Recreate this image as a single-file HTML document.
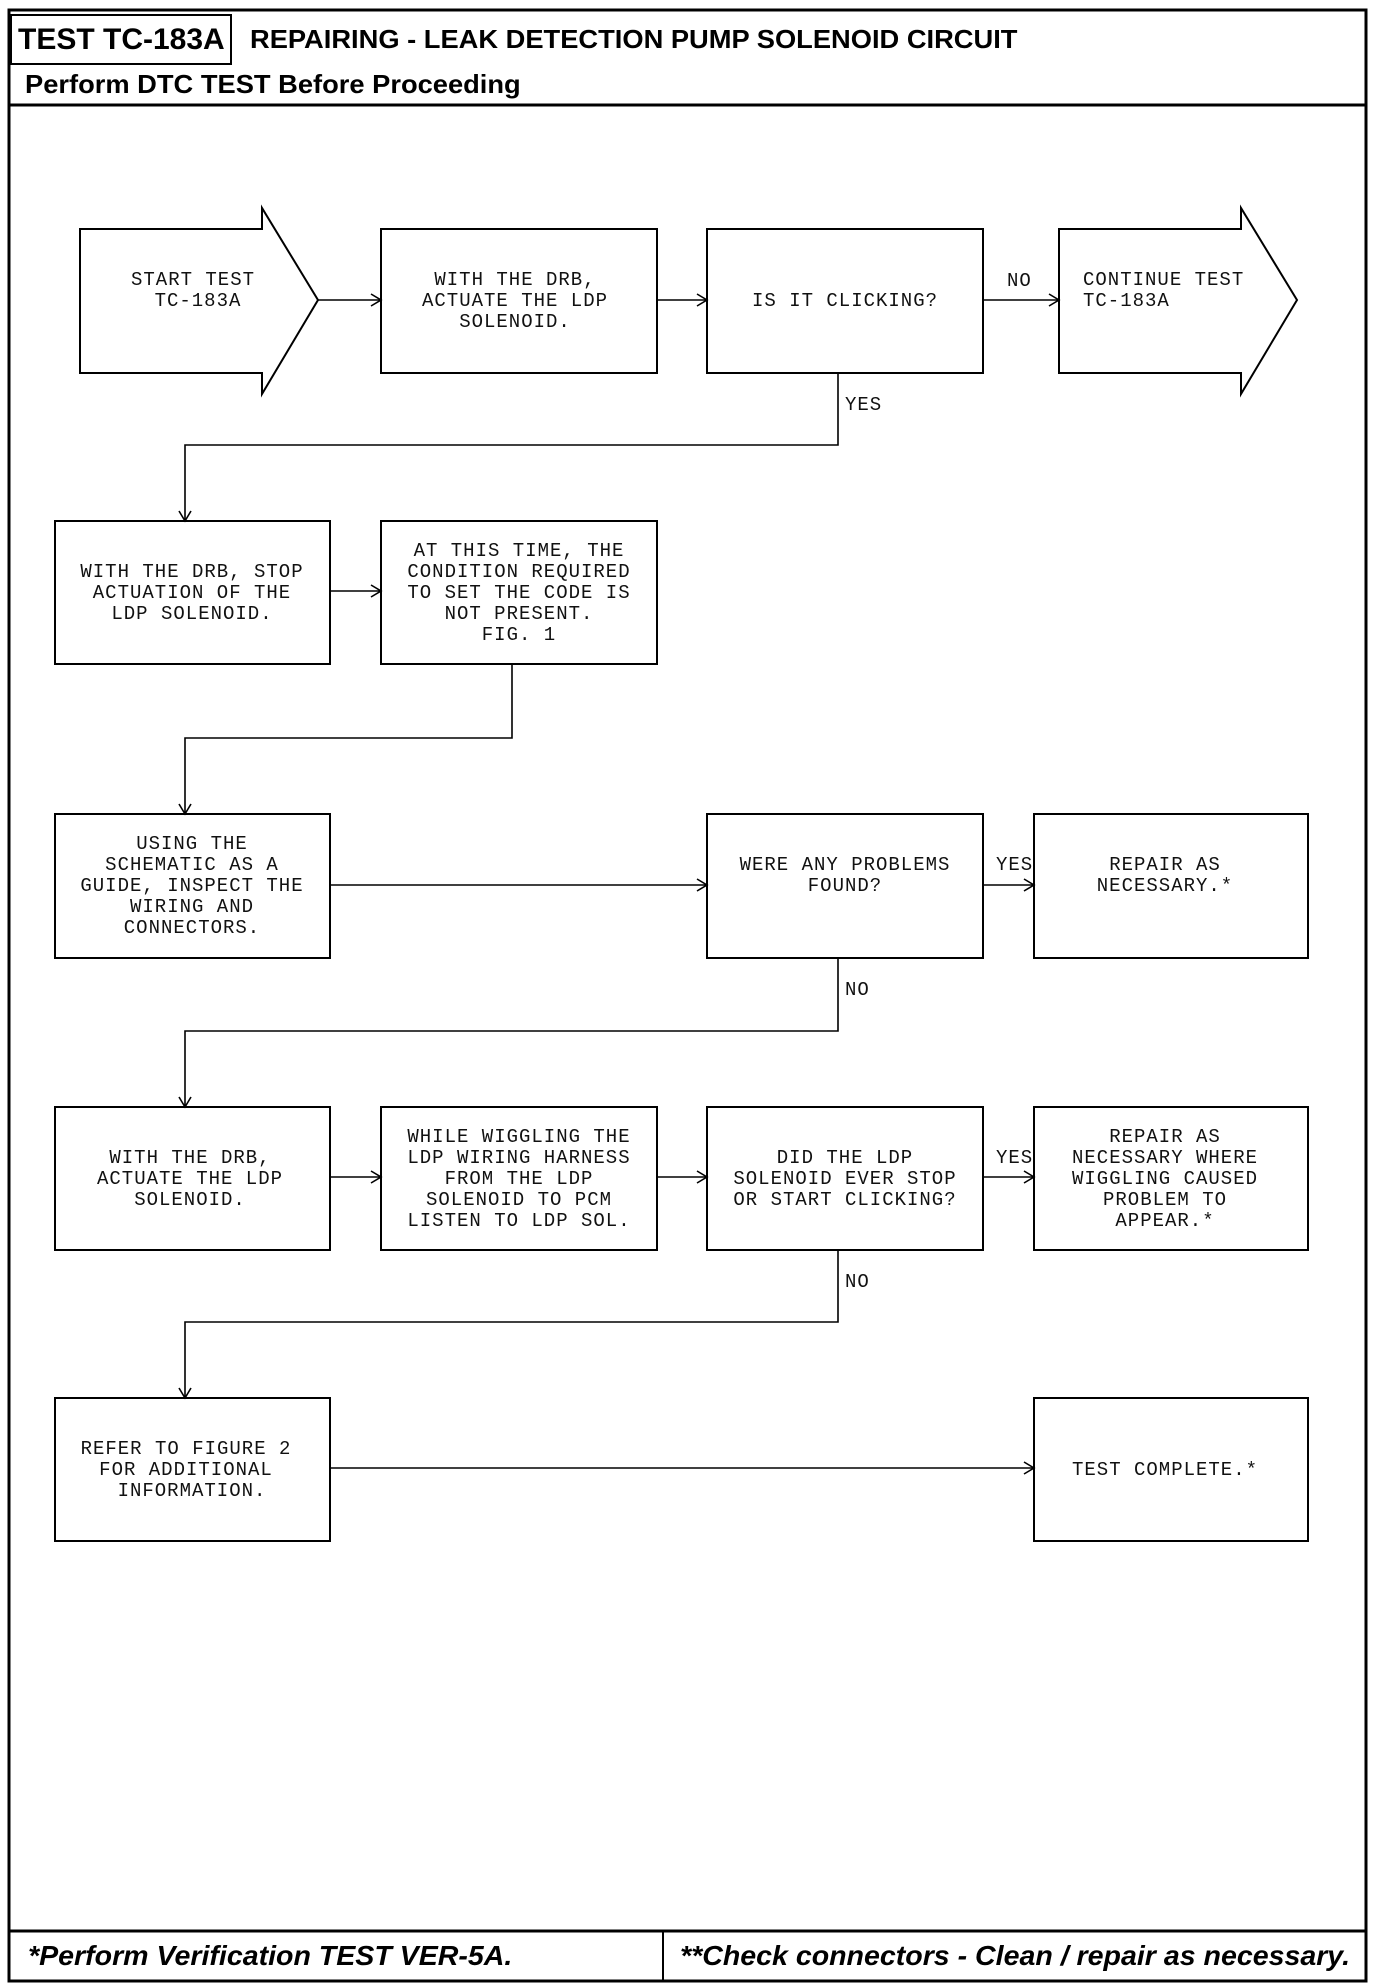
<!DOCTYPE html>
<html><head><meta charset="utf-8"><style>
html,body{margin:0;padding:0;background:#fff;}
svg{display:block;}
.t{font-family:"Liberation Mono",monospace;font-size:19px;letter-spacing:1px;fill:#111;}
.h{font-family:"Liberation Sans",sans-serif;font-weight:bold;fill:#000;}
</style></head><body>
<svg width="1376" height="1986" viewBox="0 0 1376 1986" xmlns="http://www.w3.org/2000/svg">
<defs>
<marker id="a" markerWidth="14" markerHeight="14" refX="12" refY="7" orient="auto" markerUnits="userSpaceOnUse">
<path d="M2,1 L12,7 L2,13" fill="none" stroke="#000" stroke-width="1.6"/>
</marker>
</defs>
<!-- frame -->
<rect x="9" y="10" width="1357" height="1971" fill="none" stroke="#000" stroke-width="3"/>
<rect x="11" y="15" width="220" height="49" fill="none" stroke="#000" stroke-width="2"/>
<text class="h" x="18" y="49" font-size="30">TEST TC-183A</text>
<text class="h" x="250" y="48" font-size="26" transform="translate(250 0) scale(1.05 1) translate(-250 0)">REPAIRING - LEAK DETECTION PUMP SOLENOID CIRCUIT</text>
<text class="h" x="25" y="93" font-size="26" transform="translate(25 0) scale(1.05 1) translate(-25 0)">Perform DTC TEST Before Proceeding</text>
<line x1="9" y1="105" x2="1366" y2="105" stroke="#000" stroke-width="3"/>
<!-- footer -->
<line x1="9" y1="1931" x2="1366" y2="1931" stroke="#000" stroke-width="3"/>
<line x1="663" y1="1931" x2="663" y2="1981" stroke="#000" stroke-width="2"/>
<text class="h" x="28" y="1965" font-size="28" font-style="italic" transform="translate(28 0) scale(1.02 1) translate(-28 0)">*Perform Verification TEST VER-5A.</text>
<text class="h" x="680" y="1965" font-size="28" font-style="italic" transform="translate(680 0) scale(1.02 1) translate(-680 0)">**Check connectors - Clean / repair as necessary.</text>

<g fill="none" stroke="#000" stroke-width="2">
<path d="M80,229 L262,229 L262,208 L318,300 L262,394 L262,373 L80,373 Z"/>
<rect x="381" y="229" width="276" height="144"/>
<rect x="707" y="229" width="276" height="144"/>
<path d="M1059,229 L1241,229 L1241,208 L1297,300 L1241,394 L1241,373 L1059,373 Z"/>
<rect x="55" y="521" width="275" height="143"/>
<rect x="381" y="521" width="276" height="143"/>
<rect x="55" y="814" width="275" height="144"/>
<rect x="707" y="814" width="276" height="144"/>
<rect x="1034" y="814" width="274" height="144"/>
<rect x="55" y="1107" width="275" height="143"/>
<rect x="381" y="1107" width="276" height="143"/>
<rect x="707" y="1107" width="276" height="143"/>
<rect x="1034" y="1107" width="274" height="143"/>
<rect x="55" y="1398" width="275" height="143"/>
<rect x="1034" y="1398" width="274" height="143"/>
</g>
<g fill="none" stroke="#000" stroke-width="1.6" marker-end="url(#a)">
<line x1="318" y1="300" x2="381" y2="300"/>
<line x1="657" y1="300" x2="707" y2="300"/>
<line x1="983" y1="300" x2="1059" y2="300"/>
<polyline points="838,373 838,445 185,445 185,521"/>
<line x1="330" y1="591" x2="381" y2="591"/>
<polyline points="512,664 512,738 185,738 185,814"/>
<line x1="330" y1="885" x2="707" y2="885"/>
<line x1="983" y1="885" x2="1034" y2="885"/>
<polyline points="838,958 838,1031 185,1031 185,1107"/>
<line x1="330" y1="1177" x2="381" y2="1177"/>
<line x1="657" y1="1177" x2="707" y2="1177"/>
<line x1="983" y1="1177" x2="1034" y2="1177"/>
<polyline points="838,1250 838,1322 185,1322 185,1398"/>
<line x1="330" y1="1468" x2="1034" y2="1468"/>
</g>
<g class="t">
<text x="1007" y="286">NO</text>
<text x="845" y="410">YES</text>
<text x="996" y="870">YES</text>
<text x="845" y="995">NO</text>
<text x="996" y="1163">YES</text>
<text x="845" y="1287">NO</text>
</g>
<g class="t" text-anchor="middle">
<text x="193" y="285">START TEST</text>
<text x="198" y="306">TC-183A</text>
<text x="515" y="285">WITH THE DRB,</text>
<text x="515" y="306">ACTUATE THE LDP</text>
<text x="515" y="327">SOLENOID.</text>
<text x="845" y="306">IS IT CLICKING?</text>

<text x="192" y="577">WITH THE DRB, STOP</text>
<text x="192" y="598">ACTUATION OF THE</text>
<text x="192" y="619">LDP SOLENOID.</text>
<text x="519" y="556">AT THIS TIME, THE</text>
<text x="519" y="577">CONDITION REQUIRED</text>
<text x="519" y="598">TO SET THE CODE IS</text>
<text x="519" y="619">NOT PRESENT.</text>
<text x="519" y="640">FIG. 1</text>

<text x="192" y="849">USING THE</text>
<text x="192" y="870">SCHEMATIC AS A</text>
<text x="192" y="891">GUIDE, INSPECT THE</text>
<text x="192" y="912">WIRING AND</text>
<text x="192" y="933">CONNECTORS.</text>
<text x="845" y="870">WERE ANY PROBLEMS</text>
<text x="845" y="891">FOUND?</text>
<text x="1165" y="870">REPAIR AS</text>
<text x="1165" y="891">NECESSARY.*</text>

<text x="190" y="1163">WITH THE DRB,</text>
<text x="190" y="1184">ACTUATE THE LDP</text>
<text x="190" y="1205">SOLENOID.</text>
<text x="519" y="1142">WHILE WIGGLING THE</text>
<text x="519" y="1163">LDP WIRING HARNESS</text>
<text x="519" y="1184">FROM THE LDP</text>
<text x="519" y="1205">SOLENOID TO PCM</text>
<text x="519" y="1226">LISTEN TO LDP SOL.</text>
<text x="845" y="1163">DID THE LDP</text>
<text x="845" y="1184">SOLENOID EVER STOP</text>
<text x="845" y="1205">OR START CLICKING?</text>
<text x="1165" y="1142">REPAIR AS</text>
<text x="1165" y="1163">NECESSARY WHERE</text>
<text x="1165" y="1184">WIGGLING CAUSED</text>
<text x="1165" y="1205">PROBLEM TO</text>
<text x="1165" y="1226">APPEAR.*</text>

<text x="186" y="1454">REFER TO FIGURE 2</text>
<text x="186" y="1475">FOR ADDITIONAL</text>
<text x="192" y="1496">INFORMATION.</text>
<text x="1165" y="1475">TEST COMPLETE.*</text>
</g>
<g class="t">
<text x="1083" y="285">CONTINUE TEST</text>
<text x="1083" y="306">TC-183A</text>
</g>
</svg>
</body></html>
